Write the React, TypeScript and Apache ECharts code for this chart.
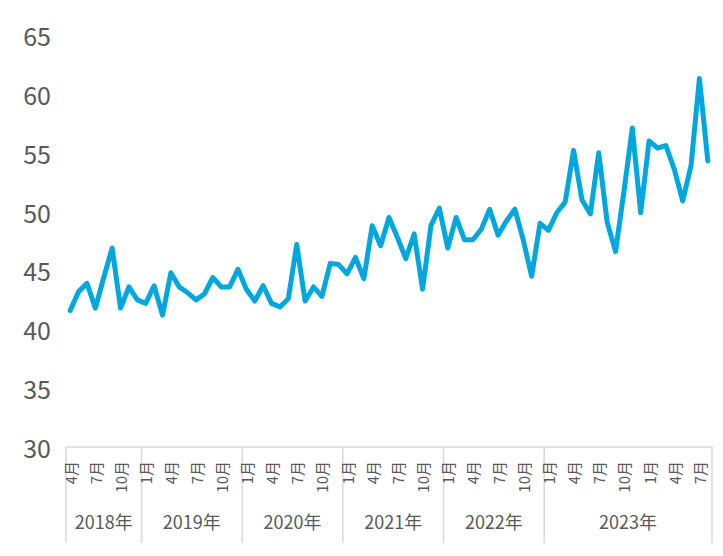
import React, { useEffect, useRef } from "react";
import * as echarts from "echarts";

// Monthly series, April 2018 onward
const startYear = 2018;
const startMonth = 4;
const values: number[] = [
  41.6, 43.2, 43.9, 41.8, 44.4, 46.9, 41.8, 43.6, 42.5,
  42.2, 43.7, 41.2, 44.8, 43.6, 43.1, 42.5, 43.0, 44.4, 43.6, 43.6, 45.1,
  43.4, 42.4, 43.7, 42.2, 41.9, 42.6, 47.2, 42.4, 43.6, 42.8, 45.6, 45.5,
  44.7, 46.1, 44.3, 48.8, 47.1, 49.5, 47.8, 46.0, 48.1, 43.4, 48.8, 50.3,
  46.9, 49.5, 47.6, 47.6, 48.5, 50.2, 48.0, 49.2, 50.2, 47.6, 44.5, 49.0,
  48.4, 49.9, 50.8, 55.2, 51.0, 49.8, 55.0, 49.1, 46.6, 51.7, 57.1, 49.9,
  56.0, 55.4, 55.6, 53.6, 50.9, 53.9, 61.3, 54.3,
];
// year group labels and the number of months each group covers
const yearLabels = ["2018年", "2019年", "2020年", "2021年", "2022年", "2023年"];
const yearSizes = [9, 12, 12, 12, 12, 20];
const shownMonths = [1, 4, 7, 10];
const yTicks = { min: 30, max: 65, interval: 5 };

const categories: string[] = values.map((_, i) => {
  const m = startMonth - 1 + i;
  const y = startYear + Math.floor(m / 12);
  const mo = (m % 12) + 1;
  return `${y}-${mo}`;
});

const TEXT = "#595959";
const GRIDLINE = "#d9d9d9";
const FONT = "'Noto Sans CJK JP', 'Noto Sans', sans-serif";

export default function App() {
  const ref = useRef<HTMLDivElement>(null);
  useEffect(() => {
    if (!ref.current) return;
    const chart = echarts.init(ref.current, undefined, { renderer: "svg" });
    chart.setOption({
      animation: false,
      textStyle: { fontFamily: FONT },
      grid: { left: 66, right: 11, top: 35, bottom: 109, containLabel: false },
      xAxis: {
        type: "category",
        data: categories,
        boundaryGap: true,
        axisLine: { show: true, lineStyle: { color: GRIDLINE, width: 1.5 } },
        axisTick: { show: false },
        axisLabel: {
          rotate: 90,
          margin: 14,
          fontSize: 15,
          color: TEXT,
          fontFamily: FONT,
          interval: (idx: number, val: string) =>
            shownMonths.includes(Number(val.split("-")[1])),
          formatter: (val: string) => `${Number(val.split("-")[1])}月`,
        },
      },
      yAxis: {
        type: "value",
        min: yTicks.min,
        max: yTicks.max,
        interval: yTicks.interval,
        splitLine: { show: false },
        axisLine: { show: false },
        axisTick: { show: false },
        axisLabel: { fontSize: 25, color: TEXT, margin: 15, fontFamily: FONT },
      },
      series: [
        {
          type: "line",
          data: values,
          showSymbol: false,
          symbol: "none",
          lineStyle: { color: "#00A7DE", width: 5, join: "round", cap: "round" },
          itemStyle: { color: "#00A7DE" },
        },
      ],
    });

    // separators and year labels placed through the axis scale
    const c0 = chart.convertToPixel({ xAxisIndex: 0 }, categories[0]) as number;
    const c1 = chart.convertToPixel({ xAxisIndex: 0 }, categories[1]) as number;
    const bw = c1 - c0;
    const axisY = chart.convertToPixel({ yAxisIndex: 0 }, yTicks.min) as number;
    const boundaries: number[] = [];
    let idx = 0;
    for (let g = 0; g < yearSizes.length; g++) {
      boundaries.push((chart.convertToPixel({ xAxisIndex: 0 }, categories[idx]) as number) - bw / 2);
      idx += yearSizes[g];
    }
    boundaries.push((chart.convertToPixel({ xAxisIndex: 0 }, categories[idx - 1]) as number) + bw / 2);

    const graphics: any[] = [];
    boundaries.forEach((bx) => {
      graphics.push({
        type: "line",
        shape: { x1: bx, y1: axisY, x2: bx, y2: axisY + 96 },
        style: { stroke: GRIDLINE, lineWidth: 1.5 },
        silent: true,
      });
    });
    yearLabels.forEach((lab, g) => {
      const mid = (boundaries[g] + boundaries[g + 1]) / 2;
      graphics.push({
        type: "text",
        x: mid,
        y: axisY + 74,
        style: {
          text: lab,
          fontSize: 18,
          fill: TEXT,
          fontFamily: FONT,
          align: "center",
          verticalAlign: "middle",
        },
        silent: true,
      });
    });
    chart.setOption({ graphic: graphics });

    return () => chart.dispose();
  }, []);
  return (
    <div
      ref={ref}
      style={{ position: "fixed", left: 0, top: 0, width: 723, height: 556, background: "#fff" }}
    />
  );
}
